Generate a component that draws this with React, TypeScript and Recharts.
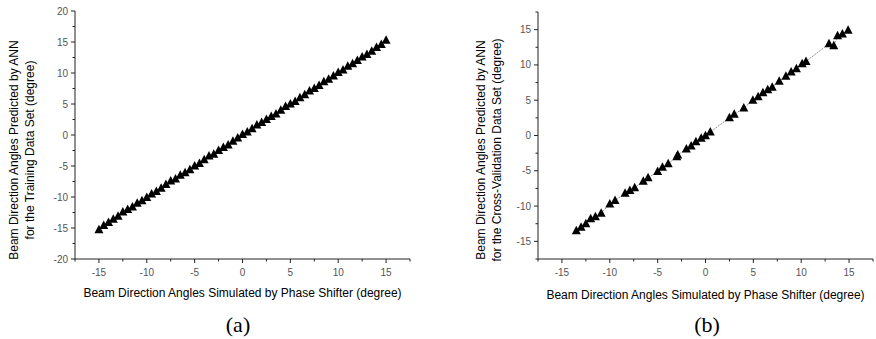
import { Scatter, ScatterChart, XAxis, YAxis } from "recharts";

// (a) training set
const trainX = [
  -15, -14.5, -14, -13.5, -13, -12.5, -12, -11.5, -11, -10.5, -10, -9.5, -9, -8.5, -8, -7.5,
  -7, -6.5, -6, -5.5, -5, -4.5, -4, -3.5, -3, -2.5, -2, -1.5, -1, -0.5, 0, 0.5, 1, 1.5, 2,
  2.5, 3, 3.5, 4, 4.5, 5, 5.5, 6, 6.5, 7, 7.5, 8, 8.5, 9, 9.5, 10, 10.5, 11, 11.5, 12, 12.5,
  13, 13.5, 14, 14.5, 15,
];
const trainY = [
  -15.3, -14.6, -14.1, -13.6, -13.1, -12.4, -12.0, -11.6, -11.0, -10.6, -10.1, -9.5, -9.1,
  -8.6, -8.0, -7.4, -7.1, -6.5, -6.1, -5.6, -5.0, -4.6, -4.0, -3.4, -3.1, -2.5, -2.0, -1.6,
  -1.0, -0.5, 0.1, 0.5, 1.0, 1.6, 2.0, 2.5, 3.0, 3.4, 4.0, 4.6, 5.0, 5.4, 6.0, 6.5, 7.1, 7.5,
  8.0, 8.6, 9.0, 9.5, 10.1, 10.5, 11.1, 11.5, 12.0, 12.6, 13.0, 13.5, 14.1, 14.6, 15.3,
];

// (b) cross-validation set
const cvX = [
  -13.5, -13.0, -12.5, -12.0, -11.5, -10.9, -10.0, -9.45, -8.4, -7.9, -7.4, -6.5, -6.0, -5.0,
  -4.5, -3.9, -3.0, -2.9, -2.0, -1.5, -1.0, -0.45, 0, 0.5, 2.5, 3.0, 4.0, 4.95, 5.5, 6.0, 6.5,
  6.97, 7.7, 8.4, 8.95, 9.5, 10.1, 10.5, 12.9, 13.4, 13.8, 14.3, 14.9,
];
const cvY = [
  -13.5, -13.0, -12.5, -11.8, -11.5, -11.0, -9.7, -9.2, -8.2, -7.8, -7.4, -6.5, -6.0, -5.1,
  -4.5, -4.0, -3.0, -2.75, -1.9, -1.5, -0.9, -0.4, -0.05, 0.5, 2.5, 3.0, 3.9, 5.0, 5.5, 6.05,
  6.5, 6.85, 7.7, 8.4, 9.0, 9.45, 10.15, 10.5, 13.0, 12.7, 14.15, 14.4, 14.9,
];

const xTicks = [-17.5, -15, -12.5, -10, -7.5, -5, -2.5, 0, 2.5, 5, 7.5, 10, 12.5, 15, 17.5];
const trainYTicks = [-20, -17.5, -15, -12.5, -10, -7.5, -5, -2.5, 0, 2.5, 5, 7.5, 10, 12.5, 15, 17.5, 20];
const cvYTicks = [-17.5, -15, -12.5, -10, -7.5, -5, -2.5, 0, 2.5, 5, 7.5, 10, 12.5, 15, 17.5];

const trainData = trainX.map((x, i) => ({ x, y: trainY[i] }));
const cvData = cvX.map((x, i) => ({ x, y: cvY[i] }));

const FONT = "'Liberation Sans', Arial, sans-serif";
const AXIS_COLOR = "#222";
const isMajor = (v: number) => Math.abs(v % 5) < 1e-6;

// filled up-triangle marker
function Tri(props: any) {
  const { cx, cy } = props;
  if (cx == null || cy == null) return null;
  return (
    <polygon points={`${cx},${cy - 5} ${cx + 4.5},${cy + 3.5} ${cx - 4.5},${cy + 3.5}`} fill="#000" />
  );
}

function TickY(props: any) {
  const { x, y, payload } = props;
  const v = payload.value;
  const major = isMajor(v);
  return (
    <g>
      <line x1={x - (major ? 4 : 2.5)} x2={x} y1={y} y2={y} stroke={AXIS_COLOR} />
      {major && (
        <text x={x - 7} y={y} dy={3.5} textAnchor="end" fontSize={10} fontFamily={FONT} fill="#555">
          {v}
        </text>
      )}
    </g>
  );
}

function TickX(props: any) {
  const { x, y, payload } = props;
  const v = payload.value;
  const major = isMajor(v);
  return (
    <g>
      <line x1={x} x2={x} y1={y} y2={y + (major ? 4 : 2.5)} stroke={AXIS_COLOR} />
      {major && (
        <text x={x} y={y} dy={16.5} textAnchor="middle" fontSize={10} fontFamily={FONT} fill="#555">
          {v}
        </text>
      )}
    </g>
  );
}

function Panel({
  data,
  yDomain,
  yTicks,
  margin,
  width,
  withLine,
}: {
  data: { x: number; y: number }[];
  yDomain: [number, number];
  yTicks: number[];
  margin: { top: number; right: number; bottom: number; left: number };
  width: number;
  withLine?: boolean;
}) {
  return (
    <ScatterChart width={width} height={339} margin={margin}>
      <XAxis
        type="number"
        dataKey="x"
        domain={[-17.5, 17.5]}
        ticks={xTicks}
        interval={0}
        tickLine={false}
        tickSize={0}
        tickMargin={0}
        tick={<TickX />}
        stroke={AXIS_COLOR}
        allowDataOverflow
      />
      <YAxis
        type="number"
        dataKey="y"
        width={60}
        domain={yDomain}
        ticks={yTicks}
        interval={0}
        tickLine={false}
        tickSize={0}
        tickMargin={0}
        tick={<TickY />}
        stroke={AXIS_COLOR}
        allowDataOverflow
      />
      <Scatter
        data={data}
        shape={<Tri />}
        fill="#000"
        line={withLine ? { stroke: "#777", strokeWidth: 0.8, strokeDasharray: "2 1" } : false}
        isAnimationActive={false}
      />
    </ScatterChart>
  );
}

const yTitle = (cx: number, lines: string[]) => (
  <div
    style={{
      position: "absolute",
      left: cx,
      top: 150,
      width: 260,
      transform: "translate(-50%, -50%) rotate(-90deg)",
      textAlign: "center",
      fontFamily: FONT,
      fontSize: 12,
      lineHeight: "16px",
      color: "#000",
      whiteSpace: "nowrap",
    }}
  >
    {lines.map((l) => (
      <div key={l}>{l}</div>
    ))}
  </div>
);

const xTitle = (cx: number, cy: number) => (
  <div
    style={{
      position: "absolute",
      left: cx,
      top: cy,
      transform: "translate(-50%, -50%)",
      fontFamily: FONT,
      fontSize: 12,
      color: "#000",
      whiteSpace: "nowrap",
    }}
  >
    Beam Direction Angles Simulated by Phase Shifter (degree)
  </div>
);

const caption = (cx: number, text: string) => (
  <div
    style={{
      position: "absolute",
      left: cx,
      top: 325,
      transform: "translate(-50%, -50%)",
      fontFamily: "'Liberation Serif', 'Times New Roman', serif",
      fontSize: 22,
      color: "#000",
    }}
  >
    {text}
  </div>
);

export default function App() {
  return (
    <div style={{ position: "absolute", left: 0, top: 0, width: 876, height: 339, background: "#fff" }}>
      <div style={{ position: "absolute", left: 0, top: 0 }}>
        <Panel
          data={trainData}
          yDomain={[-20, 20]}
          yTicks={trainYTicks}
          width={440}
          margin={{ top: 11, right: 30, bottom: 50, left: 15 }}
        />
      </div>
      <div style={{ position: "absolute", left: 440, top: 0 }}>
        <Panel
          data={cvData}
          yDomain={[-17.5, 17.5]}
          yTicks={cvYTicks}
          width={436}
          margin={{ top: 12, right: 3, bottom: 50, left: 38 }}
          withLine
        />
      </div>
      {yTitle(21.5, ["Beam Direction Angles Predicted by ANN", "for the Training Data Set (degree)"])}
      {yTitle(489, ["Beam Direction Angles Predicted by ANN", "for the Cross-Validation Data Set (degree)"])}
      {xTitle(242.5, 293)}
      {xTitle(705.5, 295)}
      {caption(238, "(a)")}
      {caption(707, "(b)")}
    </div>
  );
}
